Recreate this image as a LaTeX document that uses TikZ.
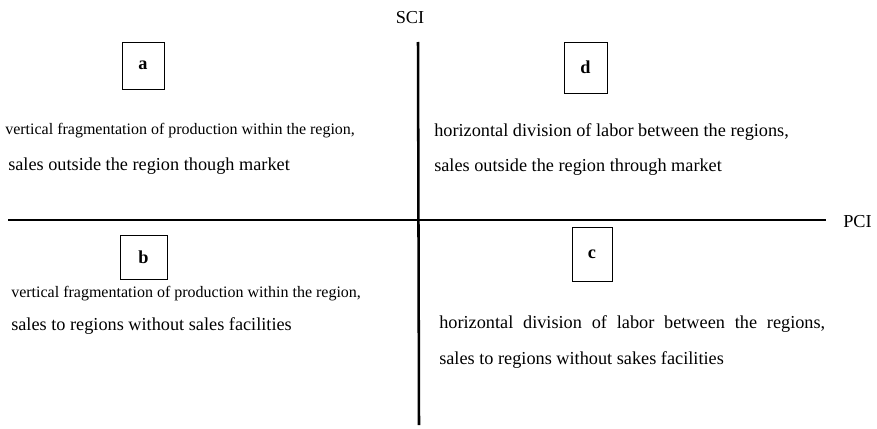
\documentclass[tikz,border=0pt]{standalone}
\usepackage{fontspec}
\setmainfont{Liberation Serif}
\tikzset{
  axis/.style={line width=1.9pt, black},
  axislabel/.style={inner sep=0pt, font=\fontsize{13.7}{16}\selectfont},
  letterbox/.style={draw, line width=0.6pt, font=\bfseries\fontsize{13.7}{16}\selectfont, inner sep=0pt},
  bigtext/.style={anchor=west, inner sep=0pt, font=\fontsize{13.7}{16}\selectfont},
  smalltext/.style={anchor=west, inner sep=0pt, font=\fontsize{12}{14}\selectfont},
}
\begin{document}
\begin{tikzpicture}[x=0.75pt, y=-0.75pt]
  \useasboundingbox (0,0) rectangle (877,428);
  % axes
  \coordinate (hl) at (8,220);
  \coordinate (hr) at (826,220);
  \coordinate (vt) at (418,42);
  \coordinate (vb) at (419,425);
  \draw[axis] (hl) -- (hr);
  \draw[axis] (vt) -- (vb);
  \node[axislabel] (sci) at (410,18) {SCI};
  \node[axislabel, anchor=west] (pci) at (843,222) {PCI};
  % quadrant boxes
  \foreach \bl/\bx/\by/\bw/\bh in {a/143/65.5/31.5pt/35.25pt, d/585.5/67.5/32.25pt/38.25pt,
                                   b/143.5/257/35.25pt/33pt, c/592/254/30pt/40.5pt}
    \node[letterbox, minimum width=\bw, minimum height=\bh] (box\bl) at (\bx,\by) {\bl};
  % quadrant texts
  \node[smalltext] (a1) at (5,131) {vertical fragmentation of production within the region,};
  \node[bigtext]   (a2) at (8,166) {sales outside the region though market};
  \node[bigtext]   (d1) at (434,132) {horizontal division of labor between the regions,};
  \node[bigtext]   (d2) at (434,167) {sales outside the region through market};
  \node[smalltext] (b1) at (11,294) {vertical fragmentation of production within the region,};
  \node[bigtext]   (b2) at (11,326) {sales to regions without sales facilities};
  \node[bigtext]   (c1) at (439,324) {\makebox[289.5pt][s]{horizontal division of labor between the regions,}};
  \node[bigtext]   (c2) at (439,360) {sales to regions without sakes facilities};
\end{tikzpicture}
\end{document}
